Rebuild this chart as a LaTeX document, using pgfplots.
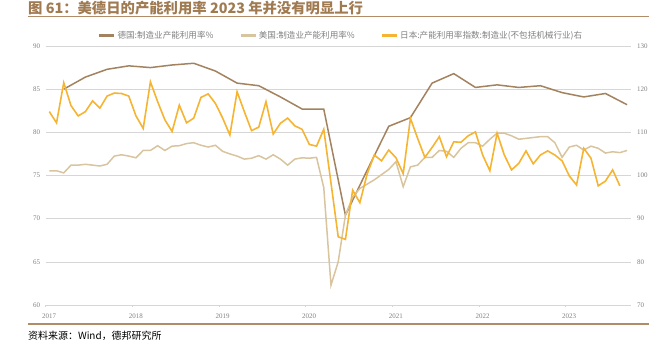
\documentclass[border=0pt]{standalone}
\usepackage{pgfplots}
\pgfplotsset{compat=1.18}
\usepackage{pgfplotstable}
\usepackage{fontspec}
\setmainfont{Liberation Serif}
\newfontfamily\cjk{Noto Sans CJK SC}
\definecolor{titlec}{RGB}{160,122,80}
\definecolor{rulec}{RGB}{176,141,104}
\definecolor{gerc}{RGB}{163,130,95}
\definecolor{usc}{RGB}{216,196,158}
\definecolor{jpc}{RGB}{245,180,50}
\definecolor{gridc}{RGB}{214,214,214}
\definecolor{tickc}{RGB}{128,128,128}

\pgfplotstableread{
m v
2 85.0
5 86.4
8 87.3
11 87.7
14 87.5
17 87.8
20 88.0
23 87.1
26 85.7
29 85.4
32 84.1
35 82.7
38 82.7
41 70.4
44 75.6
47 80.7
50 81.7
53 85.7
56 86.8
59 85.2
62 85.5
65 85.2
68 85.4
71 84.6
74 84.1
77 84.5
80 83.2
}\ger

\pgfplotstableread{
m v
0 75.55
1 75.55
2 75.3
3 76.2
4 76.2
5 76.3
6 76.2
7 76.1
8 76.3
9 77.25
10 77.4
11 77.25
12 77.05
13 77.9
14 77.9
15 78.45
16 77.9
17 78.4
18 78.45
19 78.7
20 78.8
21 78.5
22 78.3
23 78.5
24 77.8
25 77.5
26 77.25
27 76.9
28 77.0
29 77.3
30 76.9
31 77.4
32 76.9
33 76.2
34 76.9
35 77.05
36 77.0
37 77.1
38 73.6
39 62.3
40 65.0
41 70.4
42 72.5
43 73.5
44 74.0
45 74.5
46 75.1
47 75.7
48 76.6
49 73.7
50 76.0
51 76.2
52 77.1
53 77.1
54 77.9
55 77.8
56 77.1
57 78.15
58 78.8
59 78.8
60 78.4
61 79.2
62 79.9
63 79.9
64 79.6
65 79.2
66 79.3
67 79.4
68 79.5
69 79.5
70 78.8
71 77.1
72 78.3
73 78.5
74 77.95
75 78.4
76 78.15
77 77.6
78 77.75
79 77.65
80 77.9
}\us

\pgfplotstableread{
m v
0 114.8
1 112.2
2 121.5
3 116.2
4 113.8
5 114.8
6 117.3
7 115.6
8 118.4
9 119.1
10 119.0
11 118.4
12 113.8
13 110.9
14 121.7
15 117.1
16 112.9
17 110.2
18 116.3
19 112.2
20 113.3
21 118.1
22 118.9
23 116.7
24 113.3
25 109.4
26 119.4
27 114.8
28 110.4
29 111.2
30 117.1
31 109.6
32 112.1
33 113.3
34 111.5
35 110.7
36 107.2
37 106.8
38 110.7
39 98.3
40 85.8
41 85.2
42 96.6
43 93.7
44 100.3
45 104.75
46 103.4
47 105.9
48 104.1
49 100.4
50 113.25
51 108.6
52 104.2
53 106.5
54 109.0
55 104.35
56 107.8
57 107.7
58 109.2
59 110.1
60 104.75
61 101.1
62 109.8
63 104.75
64 101.3
65 102.8
66 105.7
67 102.7
68 104.75
69 105.7
70 104.75
71 103.4
72 99.9
73 97.8
74 106.3
75 104.0
76 97.6
77 98.7
78 101.3
79 97.6
}\jp

\pgfplotsset{
  common/.style={
    at={(45.7bp,51bp)}, anchor=south west,
    scale only axis, width=585bp, height=259bp,
    xmin=-0.5, xmax=80.5,
    axis line style={draw=none},
    tick label style={font=\fontsize{7}{8}\selectfont, text=tickc},
    /pgf/number format/assume math mode=true,
    ytick style={draw=none},
  }
}

\begin{document}
\begin{tikzpicture}
\path[use as bounding box] (0,0) rectangle (671bp,356bp);
% title and rules
\node[anchor=west, inner sep=0pt, text=titlec, font=\cjk\bfseries\fontsize{14.4}{16}\selectfont] at (28bp,347.5bp) {图 61：美德日的产能利用率 2023 年并没有明显上行};
\draw[rulec, line width=1bp] (28bp,339bp) -- (649bp,339bp);
\draw[rulec, line width=2.2bp] (28bp,32bp) -- (649bp,32bp);
\node[anchor=west, inner sep=0pt, font=\cjk\fontsize{10}{12}\selectfont] at (28bp,20bp) {资料来源：Wind，德邦研究所};

\begin{axis}[
  common,
  ymin=60, ymax=90,
  xtick pos=bottom, ytick pos=left,
  xtick={-0.5,11.5,23.5,35.5,47.5,59.5,71.5},
  xticklabels={2017,2018,2019,2020,2021,2022,2023},
  ytick={60,65,70,75,80,85,90},
  ymajorgrids, grid style={gridc, line width=0.6bp},
  major tick length=2.5bp,
  xtick style={draw=gridc, line width=0.6bp},
  tick align=outside,
  x tick label style={xshift=3.5bp, yshift=-3bp},
  y tick label style={xshift=0.5bp},
  legend columns=3,
  legend style={at={(0.505,1)}, anchor=south, yshift=2bp, draw=none, fill=none,
    font=\cjk\fontsize{8.6}{10}\selectfont, text=tickc,
    /tikz/every even column/.append style={column sep=24bp}},
  legend image code/.code={\draw[#1, line width=2.4bp] (0bp,0bp) -- (15bp,0bp);},
  clip=false,
]
\addplot[gerc, line width=1.5bp] table[x=m,y=v] {\ger};
\addlegendentry{德国:制造业产能利用率\%}
\addplot[usc, line width=1.5bp] table[x=m,y=v] {\us};
\addlegendentry{美国:制造业产能利用率\%}
\addlegendimage{jpc, line width=1.6bp}
\addlegendentry{日本:产能利用率指数:制造业(不包括机械行业)右}
\end{axis}

\begin{axis}[
  common,
  ymin=70, ymax=130,
  xtick=\empty,
  ytick pos=right, yticklabel pos=right,
  ytick={70,80,90,100,110,120,130},
  y tick label style={xshift=3bp},
]
\addplot[jpc, line width=1.6bp] table[x=m,y=v] {\jp};
\end{axis}
\end{tikzpicture}
\end{document}
